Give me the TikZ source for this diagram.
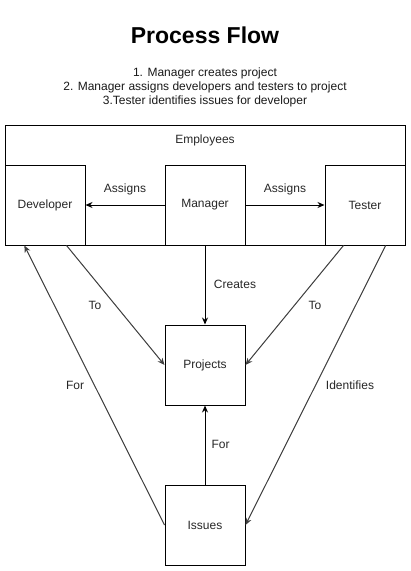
\documentclass[tikz,border=0pt]{standalone}
\usepackage{fontspec}
\setmainfont{Liberation Sans}
\usetikzlibrary{arrows.meta}
\begin{document}
\begin{tikzpicture}[x=1pt,y=-1pt,
  box/.style={draw=black,line width=1pt,minimum width=80pt,minimum height=80pt,inner sep=0pt,font=\fontsize{12}{14}\selectfont,text=black!85},
  lbl/.style={font=\fontsize{12}{14}\selectfont,text=black!85,inner sep=0pt},
  conn/.style={line width=1pt,-{Stealth[length=7pt,width=6pt]}},
  sconn/.style={conn,draw=black!75,fill=black!75}]
\useasboundingbox (0,0) rectangle (411,571);
\node[font=\bfseries\fontsize{23}{27}\selectfont] (title) at (205,35) {Process Flow};
\node[lbl,align=center,text=black!90] (sub) at (205,87) {1. Manager creates project\\2. Manager assigns developers and testers to project\\3.Tester identifies issues for developer};
\node[draw=black,line width=1pt,minimum width=400pt,minimum height=120pt,inner sep=0pt] (emp) at (205,185) {};
\node[lbl] (emplbl) at (205,140) {Employees};
\node[box] (dev) at (45,205) {Developer};
\node[box] (mgr) at (205,205) {Manager};
\node[box] (tst) at (365,205) {Tester};
\node[box] (proj) at (205,365) {Projects};
\node[box] (iss) at (205,525) {Issues};
\draw[conn] (mgr) -- (dev);
\draw[conn] (mgr) -- (tst);
\draw[conn] (mgr) -- (proj);
\draw[conn] (iss) -- (proj);
\draw[sconn] (dev.-62) -- (proj.west);
\draw[sconn] (tst.-118) -- (proj.east);
\draw[sconn] (iss.west) -- (dev.-117);
\draw[sconn] (tst.-63) -- (iss.east);
\node[lbl] (l1) at (125,189) {Assigns};
\node[lbl] (l2) at (285,189) {Assigns};
\node[lbl] (l3) at (235,284) {Creates};
\node[lbl] (l4) at (95,305) {To};
\node[lbl] (l5) at (315,305) {To};
\node[lbl] (l6) at (75,385) {For};
\node[lbl] (l7) at (350,385) {Identifies};
\node[lbl] (l8) at (220.5,444) {For};
\end{tikzpicture}
\end{document}
